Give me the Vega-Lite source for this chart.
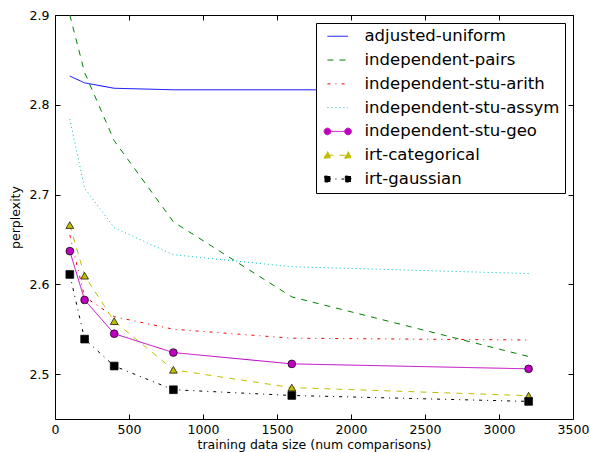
{
  "$schema": "https://vega.github.io/schema/vega-lite/v6.json",
  "width": 518,
  "height": 404,
  "autosize": {"type": "none"},
  "padding": {"left": 55, "top": 15, "right": 17, "bottom": 33},
  "background": "white",
  "config": {
    "view": {"stroke": "black", "strokeWidth": 1},
    "font": "DejaVu Sans",
    "axis": {
      "grid": false,
      "domain": false,
      "tickColor": "black",
      "tickSize": -5,
      "tickWidth": 1,
      "labelColor": "black",
      "labelFont": "DejaVu Sans",
      "labelFontSize": 12.5,
      "titleFont": "DejaVu Sans",
      "titleFontSize": 12.5,
      "titleFontWeight": "normal",
      "titleColor": "black",
      "labelFlush": false,
      "labelOverlap": false
    },
    "legend": {
      "labelFont": "DejaVu Sans",
      "labelFontSize": 16.5,
      "labelColor": "black",
      "labelLimit": 400,
      "symbolSize": 156.25
    }
  },
  "datasets": {
    "perf": [
      {"series": "adjusted-uniform", "x": 100, "y": 2.832},
      {"series": "adjusted-uniform", "x": 200, "y": 2.8244},
      {"series": "adjusted-uniform", "x": 400, "y": 2.8184},
      {"series": "adjusted-uniform", "x": 800, "y": 2.8167},
      {"series": "adjusted-uniform", "x": 1600, "y": 2.8167},
      {"series": "adjusted-uniform", "x": 3200, "y": 2.8165},
      {"series": "independent-pairs", "x": 100, "y": 2.9},
      {"series": "independent-pairs", "x": 200, "y": 2.836},
      {"series": "independent-pairs", "x": 400, "y": 2.76},
      {"series": "independent-pairs", "x": 800, "y": 2.6696},
      {"series": "independent-pairs", "x": 1600, "y": 2.586},
      {"series": "independent-pairs", "x": 3200, "y": 2.5196},
      {"series": "independent-stu-arith", "x": 100, "y": 2.655},
      {"series": "independent-stu-arith", "x": 200, "y": 2.586},
      {"series": "independent-stu-arith", "x": 400, "y": 2.564},
      {"series": "independent-stu-arith", "x": 800, "y": 2.55},
      {"series": "independent-stu-arith", "x": 1600, "y": 2.54},
      {"series": "independent-stu-arith", "x": 3200, "y": 2.538},
      {"series": "independent-stu-assym", "x": 100, "y": 2.784},
      {"series": "independent-stu-assym", "x": 200, "y": 2.707},
      {"series": "independent-stu-assym", "x": 400, "y": 2.663},
      {"series": "independent-stu-assym", "x": 800, "y": 2.633},
      {"series": "independent-stu-assym", "x": 1600, "y": 2.6196},
      {"series": "independent-stu-assym", "x": 3200, "y": 2.612},
      {"series": "independent-stu-geo", "x": 100, "y": 2.637},
      {"series": "independent-stu-geo", "x": 200, "y": 2.5826},
      {"series": "independent-stu-geo", "x": 400, "y": 2.545},
      {"series": "independent-stu-geo", "x": 800, "y": 2.524},
      {"series": "independent-stu-geo", "x": 1600, "y": 2.5114},
      {"series": "independent-stu-geo", "x": 3200, "y": 2.5059},
      {"series": "irt-categorical", "x": 100, "y": 2.666},
      {"series": "irt-categorical", "x": 200, "y": 2.6096},
      {"series": "irt-categorical", "x": 400, "y": 2.559},
      {"series": "irt-categorical", "x": 800, "y": 2.5048},
      {"series": "irt-categorical", "x": 1600, "y": 2.485},
      {"series": "irt-categorical", "x": 3200, "y": 2.476},
      {"series": "irt-gaussian", "x": 100, "y": 2.611},
      {"series": "irt-gaussian", "x": 200, "y": 2.539},
      {"series": "irt-gaussian", "x": 400, "y": 2.509},
      {"series": "irt-gaussian", "x": 800, "y": 2.4826},
      {"series": "irt-gaussian", "x": 1600, "y": 2.4762},
      {"series": "irt-gaussian", "x": 3200, "y": 2.4696}
    ]
  },
  "data": {"name": "perf"},
  "layer": [
    {
      "mark": {"type": "line", "strokeWidth": 1, "clip": true},
      "encoding": {
        "x": {
          "field": "x", "type": "quantitative",
          "scale": {"domain": [0, 3500], "nice": false, "zero": false},
          "axis": {"orient": "bottom", "values": [0, 500, 1000, 1500, 2000, 2500, 3000, 3500], "format": "d", "labelPadding": 9, "title": "training data size (num comparisons)", "titlePadding": 3}
        },
        "y": {
          "field": "y", "type": "quantitative",
          "scale": {"domain": [2.45, 2.9], "nice": false, "zero": false},
          "axis": {"orient": "left", "values": [2.5, 2.6, 2.7, 2.8, 2.9], "format": ".1f", "labelPadding": 11, "title": "perplexity", "titlePadding": 7}
        },
        "color": {
          "field": "series", "type": "nominal",
          "scale": {
            "domain": ["adjusted-uniform", "independent-pairs", "independent-stu-arith", "independent-stu-assym", "independent-stu-geo", "irt-categorical", "irt-gaussian"],
            "range": ["#0000ff", "#008000", "#ff0000", "#00bfbf", "#bf00bf", "#bfbf00", "#000000"]
          },
          "legend": {
            "title": null,
            "orient": "top-right",
            "offset": 8,
            "padding": 5,
            "strokeColor": "black",
            "fillColor": "white",
            "labelOffset": 18.5,
            "symbolOffset": 8.5,
            "rowPadding": 6.8,
            "symbolStrokeWidth": 1,
            "encode": {
              "symbols": {
                "update": {
                  "shape": {"signal": "datum.value === 'independent-stu-geo' ? 'M-1.65,0L1.65,0M-1.12,0A0.53,0.53 0 1,1 -2.18,0A0.53,0.53 0 1,1 -1.12,0ZM2.18,0A0.53,0.53 0 1,1 1.12,0A0.53,0.53 0 1,1 2.18,0Z' : datum.value === 'irt-categorical' ? 'M-1.65,0L1.65,0M-1.65,-0.6L-1.1,0.47L-2.2,0.47ZM1.65,-0.6L2.2,0.47L1.1,0.47Z' : datum.value === 'irt-gaussian' ? 'M-1.65,0L1.65,0M-2.12,-0.47L-1.18,-0.47L-1.18,0.47L-2.12,0.47ZM1.18,-0.47L2.12,-0.47L2.12,0.47L1.18,0.47Z' : 'M-1.65,0L1.65,0'"},
                  "fill": {"signal": "indexof(['independent-stu-geo','irt-categorical','irt-gaussian'], datum.value) >= 0 ? scale('color', datum.value) : 'transparent'"},
                  "stroke": {"signal": "scale('color', datum.value)"},
                  "size": {"value": 156.25},
                  "opacity": {"value": 1}
                }
              }
            }
          }
        },
        "strokeDash": {
          "field": "series", "type": "nominal",
          "scale": {
            "domain": ["adjusted-uniform", "independent-pairs", "independent-stu-arith", "independent-stu-assym", "independent-stu-geo", "irt-categorical", "irt-gaussian"],
            "range": [[1, 0], [6, 6], [3, 5, 1, 5], [1, 3], [1, 0], [6, 6], [3, 5, 1, 5]]
          },
          "legend": {"title": null}
        }
      }
    },
    {
      "transform": [{"filter": {"field": "series", "oneOf": ["independent-stu-geo", "irt-categorical", "irt-gaussian"]}}],
      "mark": {"type": "point", "filled": true, "stroke": "black", "strokeWidth": 0.7, "opacity": 1, "size": 60, "clip": true},
      "encoding": {
        "x": {
          "field": "x", "type": "quantitative",
          "axis": {"orient": "top", "values": [0, 500, 1000, 1500, 2000, 2500, 3000, 3500], "labels": false, "title": null}
        },
        "y": {
          "field": "y", "type": "quantitative",
          "axis": {"orient": "right", "values": [2.5, 2.6, 2.7, 2.8, 2.9], "labels": false, "title": null}
        },
        "color": {"field": "series", "type": "nominal"},
        "shape": {
          "field": "series", "type": "nominal",
          "scale": {
            "domain": ["independent-stu-geo", "irt-categorical", "irt-gaussian"],
            "range": ["circle", "triangle-up", "square"]
          },
          "legend": null
        }
      }
    }
  ]
}
